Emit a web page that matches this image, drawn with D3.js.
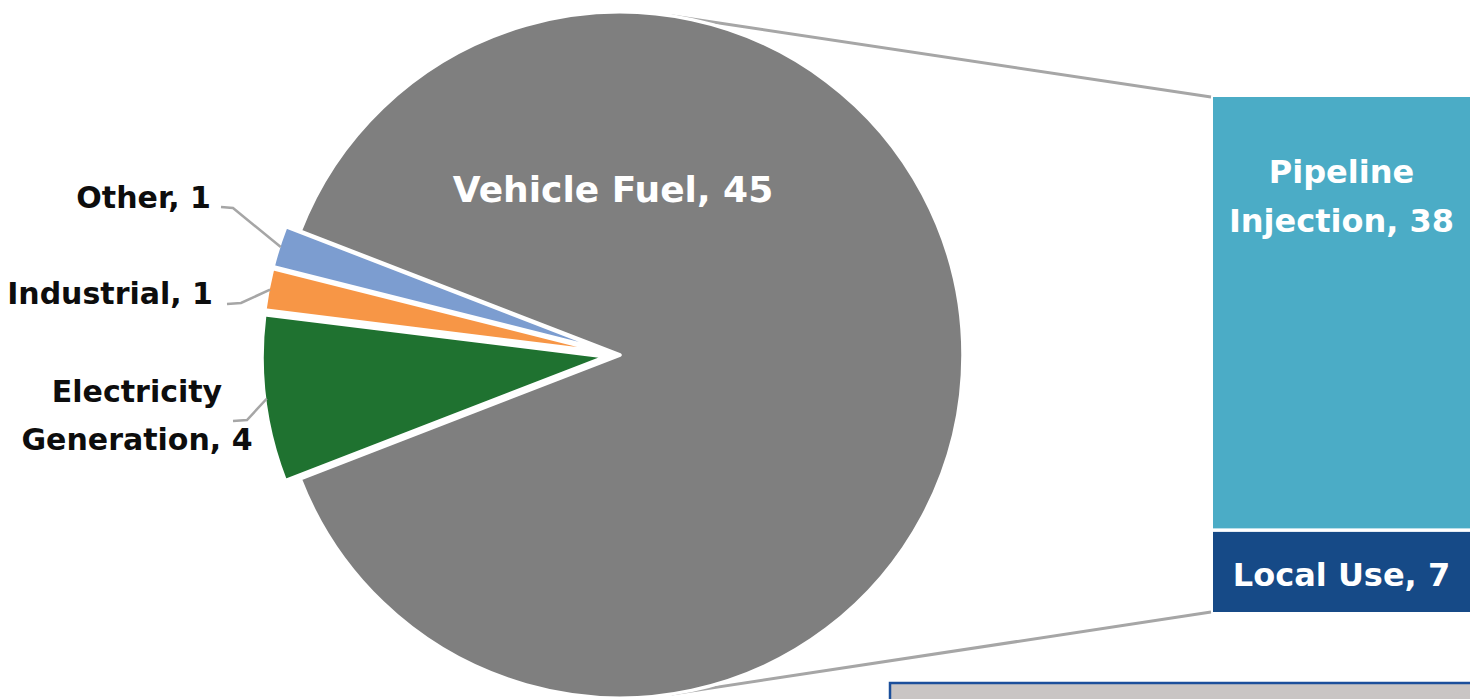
<!DOCTYPE html>
<html>
<head>
<meta charset="utf-8">
<script src="https://cdn.jsdelivr.net/npm/d3@7"></script>
<style>
  html, body { margin: 0; padding: 0; background: #fff; overflow: hidden; }
  svg { display: block; font-family: "DejaVu Sans", sans-serif; font-weight: bold; }
</style>
</head>
<body>
<svg id="chart" width="1470" height="699"></svg>
<script>
// pie categories / values (clockwise, starting with the split-out slices)
const pieNames = ['Electricity Generation', 'Industrial', 'Other', 'Vehicle Fuel']
const pieValues = [4, 1, 1, 45]
const pieText = [['Electricity', 'Generation, 4'], ['Industrial, 1'], ['Other, 1'], ['Vehicle Fuel, 45']]
// breakdown of Vehicle Fuel shown in the bar
const barNames = ['Pipeline Injection', 'Local Use']
const barValues = [38, 7]
const barText = [['Pipeline', 'Injection, 38'], ['Local Use, 7']]

const pieColors = ['#1f7230', '#f79646', '#7c9dd0', '#7f7f7f']
const barColors = ['#4bacc6', '#164a87']

const cx = 620
const cy = 355
const radius = 343
const explode = 15

const barLeft = 1213
const barRight = 1472
const barTop = 97
const barBottom = 612
const barGap = 3.5

// label placement for the small slices (Excel style manual labels)
const sideLabels = [
  { tx: 137, ty: 402, anchor: 'middle', line: [[233, 421], [247, 420]] },
  { tx: 213, ty: 304, anchor: 'end', line: [[227, 304], [241, 303]] },
  { tx: 211, ty: 208, anchor: 'end', line: [[221, 207], [233, 208]] },
]

const svg = d3.select('#chart')
const data = pieNames.map((name, i) => ({ name, value: pieValues[i], i }))
const total = d3.sum(pieValues)
const splitShare = d3.sum(pieValues.slice(0, 3)) / total
const start = Math.PI * 1.5 - splitShare * Math.PI

const pie = d3
  .pie()
  .sort(null)
  .value((d) => d.value)
  .startAngle(start)
  .endAngle(start + Math.PI * 2)

const arcs = pie(data)
const arc = d3.arc().innerRadius(0).outerRadius(radius)

const offset = (d) => {
  if (d.data.name === 'Vehicle Fuel') return [0, 0]
  const mid = (d.startAngle + d.endAngle) / 2
  return [explode * Math.sin(mid), -explode * Math.cos(mid)]
}

// connector lines: tangents from the bar corners to the pie
const yBar = d3.scaleLinear().domain([0, d3.sum(barValues)]).range([barTop, barBottom])
const tangent = (px, py, sign) => {
  const dx = px - cx
  const dy = py - cy
  const d = Math.hypot(dx, dy)
  const a = Math.atan2(dy, dx) + sign * Math.acos(radius / d)
  return [cx + radius * Math.cos(a), cy + radius * Math.sin(a)]
}
const corners = [[barLeft, yBar(0), -1], [barLeft, yBar(d3.sum(barValues)), 1]]
svg
  .append('g')
  .selectAll('line')
  .data(corners)
  .join('line')
  .attr('x1', (c) => tangent(c[0], c[1], c[2])[0])
  .attr('y1', (c) => tangent(c[0], c[1], c[2])[1])
  .attr('x2', (c) => c[0] - 2)
  .attr('y2', (c) => c[1])
  .attr('stroke', '#a6a6a6')
  .attr('stroke-width', 3)

// pie slices
const pieG = svg.append('g').attr('transform', `translate(${cx} ${cy})`)
pieG
  .selectAll('path')
  .data(arcs)
  .join('path')
  .attr('transform', (d) => `translate(${offset(d)})`)
  .attr('d', arc)
  .attr('fill', (d) => pieColors[d.data.i])
  .attr('stroke', '#fff')
  .attr('stroke-width', 3.5)
  .attr('stroke-linejoin', 'round')

// vehicle fuel label inside the pie
svg
  .append('text')
  .attr('x', cx - 7)
  .attr('y', cy - 153)
  .attr('text-anchor', 'middle')
  .attr('fill', '#fff')
  .attr('font-size', 36)
  .text(pieText[3][0])

// small slice leaders + labels
const leader = svg.append('g').attr('fill', 'none').attr('stroke', '#a6a6a6').attr('stroke-width', 2.5)
arcs.slice(0, 3).forEach((d, i) => {
  const mid = (d.startAngle + d.endAngle) / 2
  const [ox, oy] = offset(d)
  const edge = [cx + ox + (radius - 2) * Math.sin(mid), cy + oy - (radius - 2) * Math.cos(mid)]
  const lay = sideLabels[i]
  leader.append('path').attr('d', d3.line()([lay.line[0], lay.line[1], edge]))

  const t = svg
    .append('text')
    .attr('text-anchor', lay.anchor)
    .attr('fill', '#0d0d0d')
    .attr('font-size', 30)
  pieText[i].forEach((s, k) => {
    t.append('tspan').attr('x', lay.tx).attr('y', lay.ty + k * 48).text(s)
  })
})

// bar of vehicle fuel breakdown
const stack = barValues.map((v, i) => ({ name: barNames[i], i, y0: d3.sum(barValues.slice(0, i)), y1: d3.sum(barValues.slice(0, i + 1)) }))
const barG = svg.append('g')
barG
  .selectAll('rect')
  .data(stack)
  .join('rect')
  .attr('x', barLeft)
  .attr('width', barRight - barLeft)
  .attr('y', (d) => yBar(d.y0))
  .attr('height', (d) => yBar(d.y1) - yBar(d.y0) - (d.i < stack.length - 1 ? barGap : 0))
  .attr('fill', (d) => barColors[d.i])

const barMid = (barLeft + 1470) / 2
const pipeText = barG
  .append('text')
  .attr('text-anchor', 'middle')
  .attr('fill', '#fff')
  .attr('font-size', 32)
barText[0].forEach((s, k) => {
  pipeText.append('tspan').attr('x', barMid).attr('y', yBar(0) + 86 + k * 49).text(s)
})
barG
  .append('text')
  .attr('x', barMid)
  .attr('y', (yBar(stack[1].y0) + barGap + yBar(stack[1].y1)) / 2 + 12)
  .attr('text-anchor', 'middle')
  .attr('fill', '#fff')
  .attr('font-size', 32)
  .text(barText[1][0])

// cut-off text box at the bottom right
svg
  .append('rect')
  .attr('x', 890)
  .attr('y', 683)
  .attr('width', 620)
  .attr('height', 40)
  .attr('fill', '#c9c5c4')
  .attr('stroke', '#1b4f9b')
  .attr('stroke-width', 2.5)
</script>
</body>
</html>
